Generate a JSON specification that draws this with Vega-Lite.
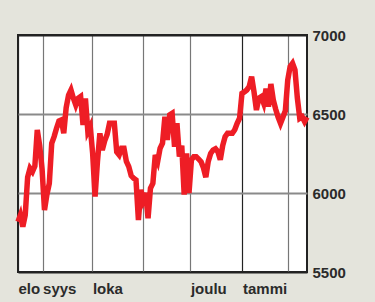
{
  "$schema": "https://vega.github.io/schema/vega-lite/v6.json",
  "width": 289,
  "height": 237,
  "autosize": "none",
  "padding": {"left": 18, "top": 35, "right": 68, "bottom": 30},
  "background": "#e4e4dc",
  "config": {
    "view": {"fill": "white", "stroke": "#222222", "strokeWidth": 2},
    "font": "Liberation Sans"
  },
  "data": {
    "values": [
      {"t": 0, "v": 5818}, {"t": 1, "v": 5860}, {"t": 2, "v": 5787}, {"t": 3, "v": 5860},
      {"t": 4, "v": 6100}, {"t": 5, "v": 6156}, {"t": 6, "v": 6135}, {"t": 7, "v": 6170},
      {"t": 8, "v": 6399}, {"t": 9, "v": 6300}, {"t": 10, "v": 6150}, {"t": 11, "v": 5892},
      {"t": 12, "v": 5990}, {"t": 13, "v": 6061}, {"t": 14, "v": 6315}, {"t": 15, "v": 6357},
      {"t": 16, "v": 6410}, {"t": 17, "v": 6455}, {"t": 18, "v": 6462}, {"t": 19, "v": 6378},
      {"t": 20, "v": 6540}, {"t": 21, "v": 6620}, {"t": 22, "v": 6652}, {"t": 23, "v": 6600},
      {"t": 24, "v": 6557}, {"t": 25, "v": 6599}, {"t": 26, "v": 6610}, {"t": 27, "v": 6430},
      {"t": 28, "v": 6599}, {"t": 29, "v": 6389}, {"t": 30, "v": 6420}, {"t": 31, "v": 6250},
      {"t": 32, "v": 5977}, {"t": 33, "v": 6200}, {"t": 34, "v": 6378}, {"t": 35, "v": 6272},
      {"t": 36, "v": 6330}, {"t": 37, "v": 6370}, {"t": 38, "v": 6441}, {"t": 39, "v": 6441},
      {"t": 40, "v": 6441}, {"t": 41, "v": 6260}, {"t": 42, "v": 6241}, {"t": 43, "v": 6283},
      {"t": 44, "v": 6283}, {"t": 45, "v": 6200}, {"t": 46, "v": 6167}, {"t": 47, "v": 6110},
      {"t": 48, "v": 6093}, {"t": 49, "v": 6082}, {"t": 50, "v": 5829}, {"t": 51, "v": 6020},
      {"t": 52, "v": 5956}, {"t": 53, "v": 6000}, {"t": 54, "v": 5840}, {"t": 55, "v": 6030},
      {"t": 56, "v": 6061}, {"t": 57, "v": 6240}, {"t": 58, "v": 6200}, {"t": 59, "v": 6283},
      {"t": 60, "v": 6315}, {"t": 61, "v": 6483}, {"t": 62, "v": 6336}, {"t": 63, "v": 6494},
      {"t": 64, "v": 6504}, {"t": 65, "v": 6293}, {"t": 66, "v": 6441}, {"t": 67, "v": 6230},
      {"t": 68, "v": 6300}, {"t": 69, "v": 5990}, {"t": 70, "v": 6251}, {"t": 71, "v": 6000},
      {"t": 72, "v": 6209}, {"t": 73, "v": 6230}, {"t": 74, "v": 6230}, {"t": 75, "v": 6215},
      {"t": 76, "v": 6198}, {"t": 77, "v": 6160}, {"t": 78, "v": 6100}, {"t": 79, "v": 6200},
      {"t": 80, "v": 6250}, {"t": 81, "v": 6272}, {"t": 82, "v": 6280}, {"t": 83, "v": 6262},
      {"t": 84, "v": 6210}, {"t": 85, "v": 6300}, {"t": 86, "v": 6357}, {"t": 87, "v": 6378},
      {"t": 88, "v": 6378}, {"t": 89, "v": 6378}, {"t": 90, "v": 6400}, {"t": 91, "v": 6441},
      {"t": 92, "v": 6473}, {"t": 93, "v": 6631}, {"t": 94, "v": 6640}, {"t": 95, "v": 6652},
      {"t": 96, "v": 6673}, {"t": 97, "v": 6736}, {"t": 98, "v": 6640}, {"t": 99, "v": 6525},
      {"t": 100, "v": 6600}, {"t": 101, "v": 6610}, {"t": 102, "v": 6568}, {"t": 103, "v": 6660},
      {"t": 104, "v": 6546}, {"t": 105, "v": 6690}, {"t": 106, "v": 6589}, {"t": 107, "v": 6530},
      {"t": 108, "v": 6480}, {"t": 109, "v": 6441}, {"t": 110, "v": 6480}, {"t": 111, "v": 6520},
      {"t": 112, "v": 6715}, {"t": 113, "v": 6800}, {"t": 114, "v": 6821}, {"t": 115, "v": 6780},
      {"t": 116, "v": 6600}, {"t": 117, "v": 6473}, {"t": 118, "v": 6483}, {"t": 119, "v": 6452},
      {"t": 120, "v": 6480}
    ]
  },
  "mark": {"type": "line", "color": "#ee1d25", "strokeWidth": 5.5, "clip": false},
  "encoding": {
    "x": {
      "field": "t",
      "type": "quantitative",
      "scale": {"domain": [0, 120], "nice": false, "zero": false},
      "axis": {
        "title": null,
        "values": [0, 10.2, 30.9, 52.1, 71.6, 93.2, 112.3],
        "labelExpr": "datum.value == 0 ? 'elo' : datum.value == 10.2 ? 'syys' : datum.value == 30.9 ? 'loka' : datum.value == 71.6 ? 'joulu' : datum.value == 93.2 ? 'tammi' : ''",
        "labelAlign": "left",
        "labelBaseline": "alphabetic",
        "labelPadding": 21,
        "labelDx": 0,
        "labelFontSize": 15,
        "labelFontWeight": "bold",
        "labelColor": "#2b2b2b",
        "labelFont": "Liberation Sans",
        "labelFlush": false,
        "labelOverlap": false,
        "ticks": false,
        "tickSize": 0,
        "domain": false,
        "grid": true,
        "gridColor": {"condition": {"test": "datum.value == 93.2 || datum.value == 0", "value": "#222222"}, "value": "#777777"},
        "gridWidth": 1.2
      }
    },
    "y": {
      "field": "v",
      "type": "quantitative",
      "scale": {"domain": [5500, 7000], "nice": false, "zero": false},
      "axis": {
        "title": null,
        "orient": "right",
        "values": [5500, 6000, 6500, 7000],
        "format": "d",
        "labelBaseline": "middle",
        "labelAlign": "left",
        "labelPadding": 5,
        "labelDy": 1,
        "labelFontSize": 15,
        "labelFontWeight": "bold",
        "labelColor": "#2b2b2b",
        "labelFont": "Liberation Sans",
        "labelFlush": false,
        "ticks": false,
        "tickSize": 0,
        "domain": false,
        "grid": true,
        "gridColor": {"condition": {"test": "datum.value == 5500 || datum.value == 7000", "value": "#222222"}, "value": "#8a8a8a"},
        "gridWidth": 2
      }
    }
  }
}
